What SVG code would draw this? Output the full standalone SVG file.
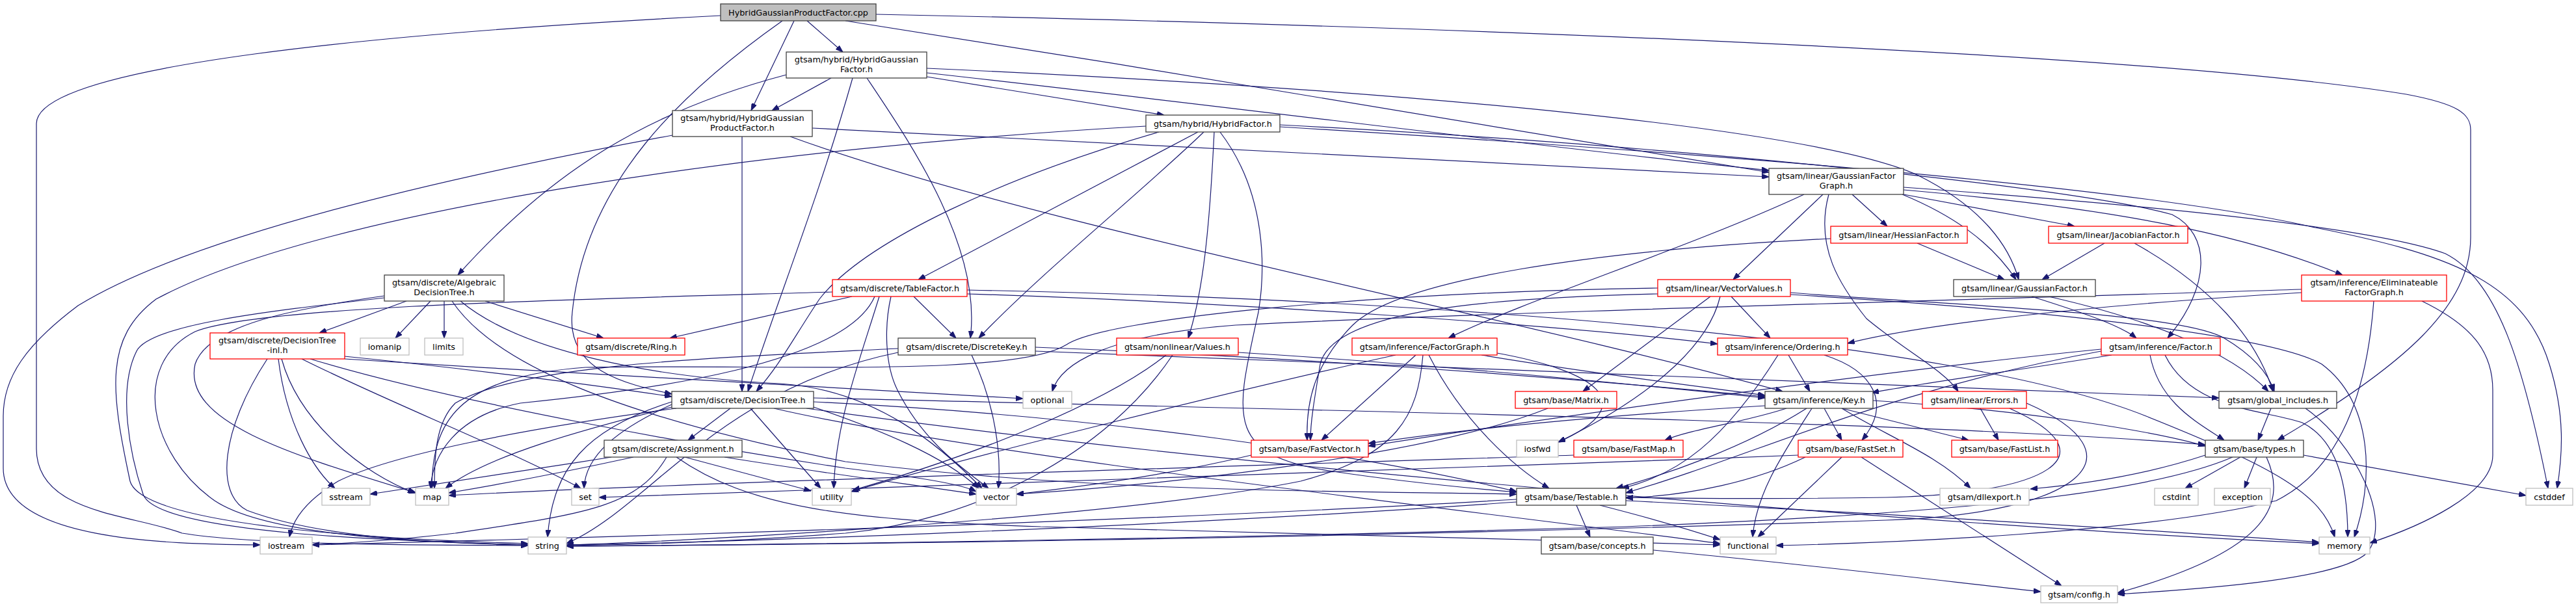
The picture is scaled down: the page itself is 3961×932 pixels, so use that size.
<svg xmlns="http://www.w3.org/2000/svg" width="3961" height="932" viewBox="0 0 3961 932">
<defs>
<marker id="a" viewBox="0 0 11 8" refX="11" refY="4" markerWidth="11" markerHeight="8" markerUnits="userSpaceOnUse" orient="auto"><path d="M0,0 L11,4 L0,8 z" fill="#191970" stroke="#191970" stroke-width="1"/></marker>
</defs>
<style>
.e path{fill:none;stroke:#191970;stroke-width:1.2;marker-end:url(#a)}
.n rect{fill:#fff;stroke:#404040;stroke-width:1.3}
.n.r rect{stroke:#ff0000}
.n.g rect{stroke:#bfbfbf}
.n.m rect{fill:#bfbfbf;stroke:#404040}
.n text{font-family:"DejaVu Sans","Liberation Sans",sans-serif;font-size:12.8px;fill:#000;text-anchor:middle}
</style>
<rect width="3961" height="932" fill="#fff"/>
<g id="connectors" class="e">
<path d="M1108,24 C600,50 56,100 56,190 L56,690 C56,790 200,790 280,820 C400,840 700,838 812,839"/>
<path d="M1203,32 C1050,140 900,280 880,480 C870,570 960,590 1033,606"/>
<path d="M1221,32 L1155,170"/>
<path d="M1241,32 L1296,80"/>
<path d="M1300,32 C1800,110 2400,210 2720,265"/>
<path d="M1347,22 C2200,40 3300,80 3700,145 C3780,160 3799,175 3799,200 L3799,365 C3799,470 3700,560 3502,677"/>
<path d="M1209,115 C1000,170 850,260 704,423"/>
<path d="M1278,120 L1187,170"/>
<path d="M1311,120 C1260,300 1200,450 1150,602"/>
<path d="M1333,120 C1400,220 1510,380 1492,520"/>
<path d="M1425,118 L1790,177"/>
<path d="M1425,105 C2200,140 2800,200 2950,270 C3050,320 3090,380 3104,430"/>
<path d="M1425,112 C1900,165 2400,230 2720,262"/>
<path d="M1141,210 L1141,602"/>
<path d="M1249,197 C1800,225 2300,250 2720,272"/>
<path d="M1215,210 C1600,350 2300,480 2741,602"/>
<path d="M1034,208 C700,270 300,360 120,470 C40,530 5,580 5,640 L5,720 C5,830 250,837 400,838"/>
<path d="M1842,203 L1412,430"/>
<path d="M1782,203 C1550,270 1330,370 1260,460 C1220,520 1200,560 1163,602"/>
<path d="M1851,203 C1750,300 1600,420 1505,520"/>
<path d="M1867,203 C1860,350 1850,450 1827,520"/>
<path d="M1876,203 C1950,300 1945,420 1935,480 C1900,640 1880,700 2050,725 C2150,740 2250,750 2332,757"/>
<path d="M1968,192 C2600,225 3200,290 3340,330 C3400,360 3400,440 3333,520"/>
<path d="M1968,195 C2700,240 3300,290 3560,350 C3760,390 3880,430 3920,560 C3945,640 3940,700 3932,751"/>
<path d="M1762,194 C1200,225 500,320 240,460 C160,520 170,600 200,740 C220,810 600,830 812,836"/>
<path d="M2774,299 C2600,380 2350,460 2227,520"/>
<path d="M2803,299 L2665,430"/>
<path d="M2812,299 C2790,380 2830,440 2870,490 C2930,540 2990,570 3011,602"/>
<path d="M2848,299 L2902,348"/>
<path d="M2925,299 C3000,330 3060,370 3100,430"/>
<path d="M2927,299 L3190,348"/>
<path d="M2927,292 C3250,320 3450,360 3602,423"/>
<path d="M2927,288 C3300,315 3650,350 3760,390 C3840,430 3880,560 3918,751"/>
<path d="M2948,374 L3082,430"/>
<path d="M2815,367 C2450,385 2150,430 2080,500 C2020,560 2008,620 2010,677"/>
<path d="M3236,374 L3140,430"/>
<path d="M3282,374 C3400,440 3470,520 3495,602"/>
<path d="M625,463 L491,512"/>
<path d="M662,463 L608,520"/>
<path d="M683,463 L683,520"/>
<path d="M746,463 L928,520"/>
<path d="M591,455 C450,475 320,500 300,560 C280,650 450,700 640,758"/>
<path d="M591,458 C400,480 230,500 210,540 C180,600 200,700 220,760 C240,820 600,832 812,838"/>
<path d="M708,463 C800,540 1000,580 1200,590 C1350,600 1450,690 1510,751"/>
<path d="M695,463 C760,560 950,640 1300,710 C1700,760 2100,755 2332,760"/>
<path d="M1310,456 L1030,520"/>
<path d="M1405,456 L1470,520"/>
<path d="M1370,456 C1360,500 1360,560 1380,600 C1420,680 1480,720 1520,751"/>
<path d="M1345,456 C1300,560 1000,600 800,620 C700,640 665,700 662,751"/>
<path d="M1352,456 C1320,560 1285,650 1282,751"/>
<path d="M1280,449 C900,460 400,470 300,510 C200,560 230,700 330,770 C420,830 700,835 812,838"/>
<path d="M1487,446 C2200,460 3000,520 3300,640 C3500,720 3570,760 3590,826"/>
<path d="M1487,452 C1900,465 2400,500 2641,529"/>
<path d="M2662,456 L2722,520"/>
<path d="M2549,452 C2300,458 2050,475 2030,560 C2020,620 2015,650 2015,677"/>
<path d="M2549,443 C2100,450 1700,490 1640,530 C1560,580 1200,560 900,565 C700,580 665,650 664,751"/>
<path d="M2645,456 C2630,520 2560,600 2396,680"/>
<path d="M2630,456 L2434,602"/>
<path d="M2753,450 C3000,470 3350,480 3420,520 C3470,550 3490,580 3497,602"/>
<path d="M2753,453 C3200,480 3500,520 3570,560 C3650,620 3650,740 3620,826"/>
<path d="M3124,456 C3200,480 3260,500 3285,520"/>
<path d="M3150,456 C3300,490 3430,540 3488,602"/>
<path d="M3539,450 C3200,470 2950,500 2841,528"/>
<path d="M3724,463 C3800,500 3833,540 3833,600 L3833,700 C3833,760 3720,810 3644,835"/>
<path d="M3650,463 C3640,600 3600,720 3500,770 C3300,820 2900,835 2731,839"/>
<path d="M3539,445 C3000,462 2300,480 1900,500 C1700,515 1630,560 1618,602"/>
<path d="M530,548 C700,565 900,590 1033,610"/>
<path d="M530,552 C900,575 1300,600 1573,613"/>
<path d="M433,552 C460,650 560,730 638,758"/>
<path d="M428,552 C440,650 480,720 515,751"/>
<path d="M411,552 C340,660 330,760 380,785 C500,830 700,836 812,838"/>
<path d="M464,552 C600,620 780,690 893,751"/>
<path d="M477,552 C700,620 1100,690 1300,720 C1420,735 1480,745 1501,756"/>
<path d="M1123,628 L1058,677"/>
<path d="M1154,628 L1262,751"/>
<path d="M1033,622 C950,660 900,700 898,751"/>
<path d="M1033,618 C900,660 850,720 842,826"/>
<path d="M1033,626 C900,660 750,700 685,751"/>
<path d="M1040,628 C800,660 600,700 520,740 C470,770 450,800 445,826"/>
<path d="M1251,618 C1700,640 2100,700 2332,756"/>
<path d="M1251,612 C2000,630 3000,650 3391,684"/>
<path d="M1190,628 C1500,700 2300,790 2645,836"/>
<path d="M1240,628 C1900,720 3000,810 3566,836"/>
<path d="M1251,626 C1350,660 1450,700 1505,751"/>
<path d="M974,703 C850,730 750,748 690,758"/>
<path d="M1025,703 C980,780 900,790 700,820 C600,832 520,836 480,838"/>
<path d="M1053,703 L1247,755"/>
<path d="M1040,703 C1150,780 1300,800 1600,810 C2000,820 2400,830 2645,838"/>
<path d="M1114,703 C1250,725 1400,745 1501,760"/>
<path d="M940,703 C800,725 650,748 569,760"/>
<path d="M1924,700 C1800,730 1650,750 1563,760"/>
<path d="M2420,700 C1800,720 1000,745 690,762"/>
<path d="M2765,700 C2000,730 1200,760 921,765"/>
<path d="M2832,703 L2703,826"/>
<path d="M2862,703 L3170,901"/>
<path d="M2776,703 C2700,740 2600,762 2500,766"/>
<path d="M2805,628 L2832,677"/>
<path d="M2832,628 L3027,677"/>
<path d="M2832,628 C2900,670 2980,700 3030,751"/>
<path d="M2786,628 C2740,700 2700,760 2695,826"/>
<path d="M2880,616 C3100,630 3300,660 3391,686"/>
<path d="M2778,628 C2680,690 2560,730 2485,751"/>
<path d="M2747,628 C2680,650 2600,660 2560,677"/>
<path d="M2714,624 C2450,640 2250,660 2104,682"/>
<path d="M2750,546 L2783,602"/>
<path d="M2805,546 C2880,570 2910,620 2863,677"/>
<path d="M2734,546 C2650,680 2580,730 2494,751"/>
<path d="M2177,546 L2032,677"/>
<path d="M2197,546 C2250,650 2330,720 2382,751"/>
<path d="M2188,546 C2180,640 2150,700 2000,740 C1700,800 1000,835 871,838"/>
<path d="M2302,543 C2450,570 2530,620 2396,680"/>
<path d="M2278,546 C2450,575 2620,595 2714,608"/>
<path d="M2146,546 C1900,600 1500,700 1309,756"/>
<path d="M1793,546 C1700,620 1500,700 1311,754"/>
<path d="M1803,546 C1700,700 1500,800 1300,820 C1100,835 950,838 871,839"/>
<path d="M1904,542 C2200,560 2500,590 2714,612"/>
<path d="M1494,546 C1530,620 1540,700 1535,751"/>
<path d="M1592,534 C2000,550 2400,580 2714,610"/>
<path d="M1592,540 C2300,565 3000,595 3412,612"/>
<path d="M1381,536 C1100,550 800,560 700,620 C670,650 668,700 668,751"/>
<path d="M1381,542 C1100,600 1000,780 871,836"/>
<path d="M3045,628 L3073,677"/>
<path d="M3090,628 C3250,700 3150,760 2900,765 C2700,768 2550,766 2500,765"/>
<path d="M3116,620 C3300,700 3200,790 2900,800 C2000,830 1200,838 871,840"/>
<path d="M2380,628 C2200,700 1800,745 1563,760"/>
<path d="M3391,700 C3300,730 3200,745 3122,752"/>
<path d="M3445,703 L3360,751"/>
<path d="M3470,703 L3451,751"/>
<path d="M3542,700 L3884,762"/>
<path d="M3485,703 C3520,780 3480,850 3256,912"/>
<path d="M3433,703 C3300,760 3000,790 2500,810 C1800,830 1200,838 871,840"/>
<path d="M3492,628 L3472,677"/>
<path d="M3545,628 C3620,680 3680,800 3640,850 C3600,890 3400,905 3256,914"/>
<path d="M3306,546 C3320,620 3380,650 3420,677"/>
<path d="M3329,546 C3370,630 3480,630 3540,650 C3600,680 3610,760 3610,826"/>
<path d="M3247,546 C3100,570 2950,590 2878,604"/>
<path d="M3231,540 C2900,600 2700,700 2500,758"/>
<path d="M3231,537 C2900,570 2400,640 2104,686"/>
<path d="M2424,777 L2445,826"/>
<path d="M2460,777 C2550,800 2600,815 2645,830"/>
<path d="M2500,770 C2900,790 3300,815 3566,834"/>
<path d="M2332,768 C1800,800 1000,825 480,838"/>
<path d="M2332,772 C1800,810 1100,835 871,838"/>
<path d="M2542,846 C2800,870 3000,895 3138,910"/>
</g>
<g id="n-main" class="n m"><rect x="1108" y="6" width="239" height="26"/><text x="1227.5" y="23.5">HybridGaussianProductFactor.cpp</text></g>
<g id="n-hgf" class="n"><rect x="1209" y="80" width="216" height="40"/><text x="1317" y="96">gtsam/hybrid/HybridGaussian</text><text x="1317" y="111">Factor.h</text></g>
<g id="n-hgpf" class="n"><rect x="1034" y="170" width="215" height="40"/><text x="1141.5" y="186">gtsam/hybrid/HybridGaussian</text><text x="1141.5" y="201">ProductFactor.h</text></g>
<g id="n-hf" class="n"><rect x="1762" y="177" width="206" height="26"/><text x="1865" y="194.5">gtsam/hybrid/HybridFactor.h</text></g>
<g id="n-gfg" class="n"><rect x="2720" y="259" width="207" height="40"/><text x="2823.5" y="275">gtsam/linear/GaussianFactor</text><text x="2823.5" y="290">Graph.h</text></g>
<g id="n-hess" class="n r"><rect x="2815" y="348" width="210" height="26"/><text x="2920" y="365.5">gtsam/linear/HessianFactor.h</text></g>
<g id="n-jac" class="n r"><rect x="3150" y="348" width="214" height="26"/><text x="3257" y="365.5">gtsam/linear/JacobianFactor.h</text></g>
<g id="n-adt" class="n"><rect x="591" y="423" width="184" height="40"/><text x="683" y="439">gtsam/discrete/Algebraic</text><text x="683" y="454">DecisionTree.h</text></g>
<g id="n-tf" class="n r"><rect x="1280" y="430" width="207" height="26"/><text x="1383.5" y="447.5">gtsam/discrete/TableFactor.h</text></g>
<g id="n-vv" class="n r"><rect x="2549" y="430" width="204" height="26"/><text x="2651" y="447.5">gtsam/linear/VectorValues.h</text></g>
<g id="n-gf" class="n"><rect x="3004" y="430" width="218" height="26"/><text x="3113" y="447.5">gtsam/linear/GaussianFactor.h</text></g>
<g id="n-efg" class="n r"><rect x="3539" y="423" width="223" height="40"/><text x="3650.5" y="439">gtsam/inference/Eliminateable</text><text x="3650.5" y="454">FactorGraph.h</text></g>
<g id="n-dtinl" class="n r"><rect x="323" y="512" width="207" height="40"/><text x="426.5" y="528">gtsam/discrete/DecisionTree</text><text x="426.5" y="543">-inl.h</text></g>
<g id="n-iomanip" class="n g"><rect x="554" y="520" width="75" height="26"/><text x="591.5" y="537.5">iomanip</text></g>
<g id="n-limits" class="n g"><rect x="653" y="520" width="59" height="26"/><text x="682.5" y="537.5">limits</text></g>
<g id="n-ring" class="n r"><rect x="888" y="520" width="165" height="26"/><text x="970.5" y="537.5">gtsam/discrete/Ring.h</text></g>
<g id="n-dk" class="n"><rect x="1381" y="520" width="211" height="26"/><text x="1486.5" y="537.5">gtsam/discrete/DiscreteKey.h</text></g>
<g id="n-values" class="n r"><rect x="1717" y="520" width="187" height="26"/><text x="1810.5" y="537.5">gtsam/nonlinear/Values.h</text></g>
<g id="n-fg" class="n r"><rect x="2079" y="520" width="223" height="26"/><text x="2190.5" y="537.5">gtsam/inference/FactorGraph.h</text></g>
<g id="n-ord" class="n r"><rect x="2641" y="520" width="200" height="26"/><text x="2741" y="537.5">gtsam/inference/Ordering.h</text></g>
<g id="n-factor" class="n r"><rect x="3231" y="520" width="183" height="26"/><text x="3322.5" y="537.5">gtsam/inference/Factor.h</text></g>
<g id="n-dt" class="n"><rect x="1033" y="602" width="218" height="26"/><text x="1142" y="619.5">gtsam/discrete/DecisionTree.h</text></g>
<g id="n-optional" class="n g"><rect x="1573" y="602" width="75" height="26"/><text x="1610.5" y="619.5">optional</text></g>
<g id="n-matrix" class="n r"><rect x="2330" y="602" width="156" height="26"/><text x="2408" y="619.5">gtsam/base/Matrix.h</text></g>
<g id="n-key" class="n"><rect x="2714" y="602" width="166" height="26"/><text x="2797" y="619.5">gtsam/inference/Key.h</text></g>
<g id="n-errors" class="n r"><rect x="2956" y="602" width="160" height="26"/><text x="3036" y="619.5">gtsam/linear/Errors.h</text></g>
<g id="n-gi" class="n"><rect x="3412" y="602" width="181" height="26"/><text x="3502.5" y="619.5">gtsam/global_includes.h</text></g>
<g id="n-assign" class="n"><rect x="929" y="677" width="212" height="26"/><text x="1035" y="694.5">gtsam/discrete/Assignment.h</text></g>
<g id="n-fv" class="n r"><rect x="1924" y="677" width="180" height="26"/><text x="2014" y="694.5">gtsam/base/FastVector.h</text></g>
<g id="n-iosfwd" class="n g"><rect x="2332" y="677" width="64" height="26"/><text x="2364" y="694.5">iosfwd</text></g>
<g id="n-fmap" class="n r"><rect x="2420" y="677" width="168" height="26"/><text x="2504" y="694.5">gtsam/base/FastMap.h</text></g>
<g id="n-fset" class="n r"><rect x="2765" y="677" width="161" height="26"/><text x="2845.5" y="694.5">gtsam/base/FastSet.h</text></g>
<g id="n-flist" class="n r"><rect x="3001" y="677" width="163" height="26"/><text x="3082.5" y="694.5">gtsam/base/FastList.h</text></g>
<g id="n-types" class="n"><rect x="3391" y="677" width="151" height="26"/><text x="3466.5" y="694.5">gtsam/base/types.h</text></g>
<g id="n-sstream" class="n g"><rect x="495" y="751" width="74" height="26"/><text x="532" y="768.5">sstream</text></g>
<g id="n-map" class="n g"><rect x="639" y="751" width="51" height="26"/><text x="664.5" y="768.5">map</text></g>
<g id="n-set" class="n g"><rect x="879" y="751" width="42" height="26"/><text x="900" y="768.5">set</text></g>
<g id="n-utility" class="n g"><rect x="1249" y="751" width="60" height="26"/><text x="1279" y="768.5">utility</text></g>
<g id="n-vector" class="n g"><rect x="1501" y="751" width="62" height="26"/><text x="1532" y="768.5">vector</text></g>
<g id="n-testable" class="n"><rect x="2332" y="751" width="168" height="26"/><text x="2416" y="768.5">gtsam/base/Testable.h</text></g>
<g id="n-dll" class="n g"><rect x="2983" y="751" width="137" height="26"/><text x="3051.5" y="768.5">gtsam/dllexport.h</text></g>
<g id="n-cstdint" class="n g"><rect x="3313" y="751" width="67" height="26"/><text x="3346.5" y="768.5">cstdint</text></g>
<g id="n-exception" class="n g"><rect x="3405" y="751" width="86" height="26"/><text x="3448" y="768.5">exception</text></g>
<g id="n-cstddef" class="n g"><rect x="3884" y="751" width="72" height="26"/><text x="3920" y="768.5">cstddef</text></g>
<g id="n-iostream" class="n g"><rect x="400" y="826" width="80" height="26"/><text x="440" y="843.5">iostream</text></g>
<g id="n-string" class="n g"><rect x="812" y="826" width="59" height="26"/><text x="841.5" y="843.5">string</text></g>
<g id="n-concepts" class="n"><rect x="2370" y="826" width="172" height="26"/><text x="2456" y="843.5">gtsam/base/concepts.h</text></g>
<g id="n-functional" class="n g"><rect x="2645" y="826" width="86" height="26"/><text x="2688" y="843.5">functional</text></g>
<g id="n-memory" class="n g"><rect x="3566" y="826" width="78" height="26"/><text x="3605" y="843.5">memory</text></g>
<g id="n-config" class="n g"><rect x="3138" y="901" width="118" height="26"/><text x="3197" y="918.5">gtsam/config.h</text></g>
</svg>
